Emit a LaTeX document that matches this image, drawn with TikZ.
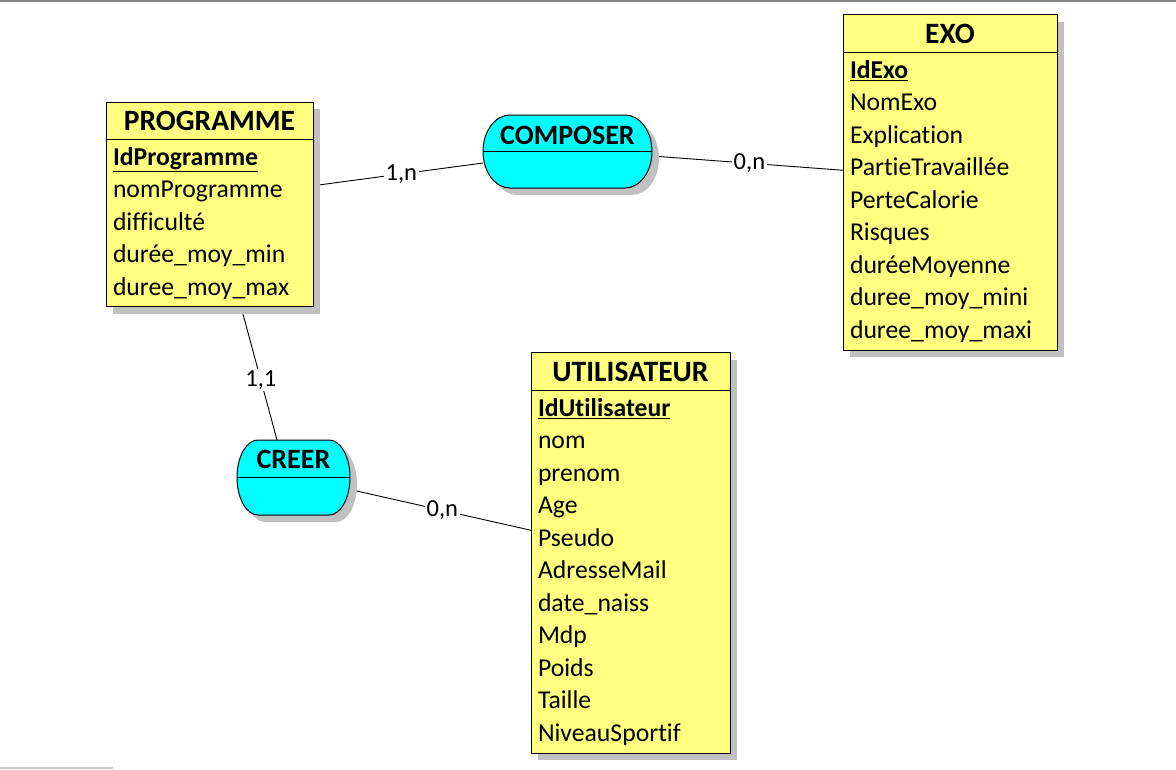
\documentclass[tikz,border=0pt]{standalone}
\usepackage{fontspec}
\setmainfont[Ligatures={NoCommon}]{Carlito}
\usetikzlibrary{shadows,positioning,backgrounds}

\definecolor{entityyellow}{RGB}{255,255,128}
\definecolor{relcyan}{RGB}{0,255,255}
\definecolor{shadowgray}{RGB}{192,192,192}
\definecolor{edgegray}{RGB}{130,130,130}
\definecolor{footgray}{RGB}{200,200,200}

\newcommand{\idattr}[1]{\underline{\textbf{#1}}}

\tikzset{
  boxshadow/.style={drop shadow={shadow xshift=7pt, shadow yshift=-7pt,
                    fill=shadowgray, opacity=1}},
  entity/.style={draw, fill=entityyellow, line width=1pt, outer sep=0pt, boxshadow},
  etitle/.style={entity, inner sep=0pt, minimum height=37.5pt,
                 font=\fontsize{29.5}{35}\selectfont\bfseries},
  eattr/.style={entity, inner xsep=7pt, inner ysep=0pt, align=left,
                font=\fontsize{25.7}{32.5}\selectfont},
  relbox/.style={inner sep=0pt, outer sep=0pt},
  relshape/.style={draw, fill=relcyan, line width=1pt, boxshadow},
  rtitle/.style={inner sep=0pt, font=\fontsize{28}{33}\selectfont\bfseries},
  link/.style={line width=0.9pt},
  card/.style={fill=white, inner sep=1.5pt, font=\fontsize{24.5}{30}\selectfont}
}

\begin{document}
\begin{tikzpicture}[x=1pt,y=-1pt]
\useasboundingbox (0,0) rectangle (1176,769);

  % window edges
  \draw[edgegray, line width=2pt] (0,1) -- (1176,1);
  \draw[footgray, line width=2pt] (0,768) -- (113,768);

  % entity PROGRAMME
  \node[etitle, minimum width=207pt] (progtitle) at (209.5,121) {PROGRAMME};
  \node[eattr, text width=193pt, minimum height=167pt, below=0pt of progtitle] (prog)
       {\idattr{IdProgramme}\\ nomProgramme\\ difficulté\\ durée\_moy\_min\\ duree\_moy\_max};

  % entity EXO
  \node[etitle, minimum width=214pt] (exotitle) at (950,33.5) {EXO};
  \node[eattr, text width=200pt, minimum height=298pt, below=0pt of exotitle] (exo)
       {\idattr{IdExo}\\ NomExo\\ Explication\\ PartieTravaillée\\ PerteCalorie\\
        Risques\\ duréeMoyenne\\ duree\_moy\_mini\\ duree\_moy\_maxi};

  % entity UTILISATEUR
  \node[etitle, minimum width=199pt] (utiltitle) at (630.5,371.5) {UTILISATEUR};
  \node[eattr, text width=185pt, minimum height=363pt, below=0pt of utiltitle] (util)
       {\idattr{IdUtilisateur}\\ nom\\ prenom\\ Age\\ Pseudo\\ AdresseMail\\
        date\_naiss\\ Mdp\\ Poids\\ Taille\\ NiveauSportif};

  % relation COMPOSER
  \node[relbox, minimum width=169pt, minimum height=73pt] (compo) at (567.5,151.5) {};
  \draw[relshape] ([xshift=27pt]compo.north west) -- ([xshift=-27pt]compo.north east)
        arc[start angle=90, end angle=-90, x radius=27pt, y radius=36.5pt]
        -- ([xshift=27pt]compo.south west)
        arc[start angle=270, end angle=90, x radius=27pt, y radius=36.5pt] -- cycle;
  \draw[link] (compo.west) -- (compo.east);
  \node[rtitle] (compotitle) at ([yshift=16.5pt]compo.center) {COMPOSER};

  % relation CREER
  \node[relbox, minimum width=113pt, minimum height=75pt] (creer) at (293.5,477.5) {};
  \draw[relshape] ([xshift=21pt]creer.north west) -- ([xshift=-21pt]creer.north east)
        arc[start angle=90, end angle=-90, x radius=21pt, y radius=37.5pt]
        -- ([xshift=21pt]creer.south west)
        arc[start angle=270, end angle=90, x radius=21pt, y radius=37.5pt] -- cycle;
  \draw[link] (creer.west) -- (creer.east);
  \node[rtitle] (creertitle) at ([yshift=18.5pt]creer.center) {CREER};

  % links with cardinalities
  \begin{scope}[on background layer]
  \path[link] ([yshift=37.5pt]prog.east) edge node[card, pos=0.52] {1,n}
              ([yshift=-11.5pt]compo.west);
  \path[link] ([yshift=-4.5pt]compo.east) edge node[card, pos=0.51] {0,n}
              ([yshift=31pt]exo.west);
  \path[link] ([xshift=31.5pt]prog.south) edge node[card, pos=0.55] {1,1}
              ([xshift=-16.5pt]creer.north);
  \path[link] ([yshift=-12pt]creer.east) edge node[card, pos=0.51] {0,n}
              ([yshift=41.5pt]util.west);
  \end{scope}

\end{tikzpicture}
\end{document}
